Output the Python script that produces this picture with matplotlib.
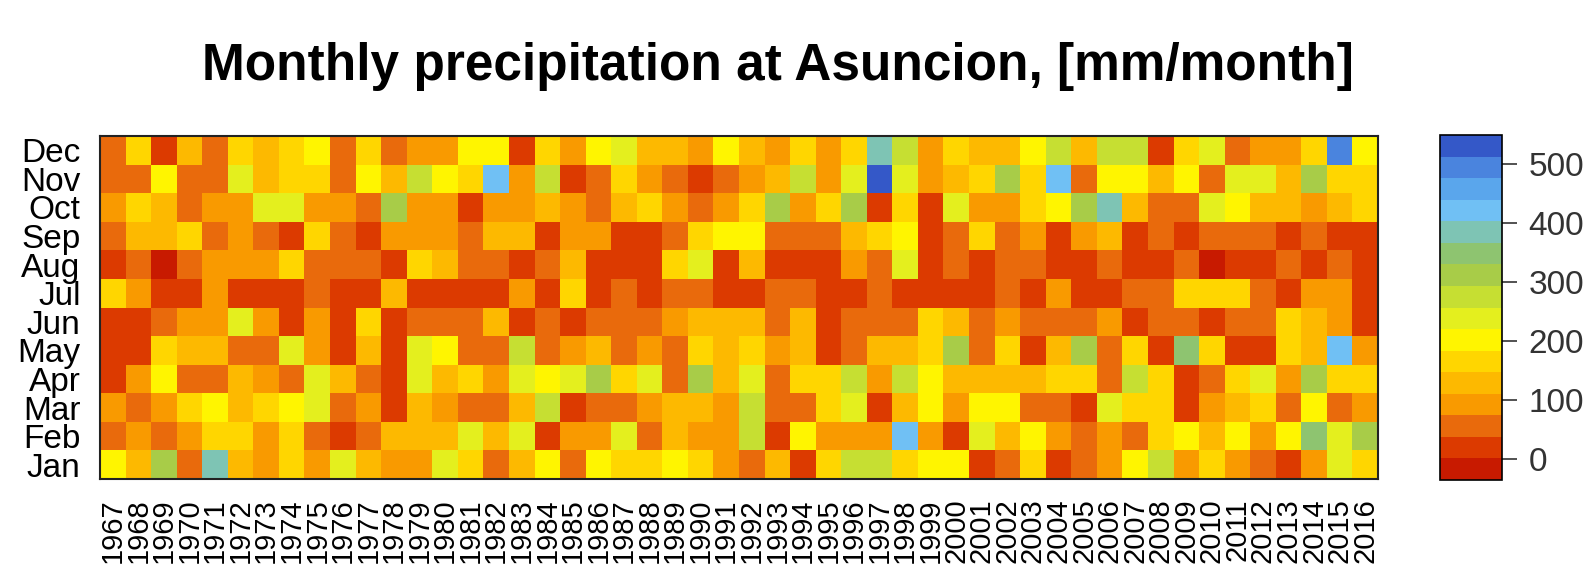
import numpy as np
import matplotlib
matplotlib.use("Agg")
import matplotlib.pyplot as plt
from matplotlib.colors import ListedColormap, BoundaryNorm

plt.rcParams['font.family'] = ['Liberation Sans', 'DejaVu Sans']

# ── data (mm/month) ──
years = list(range(1967, 2017))
months = ["Jan", "Feb", "Mar", "Apr", "May", "Jun",
          "Jul", "Aug", "Sep", "Oct", "Nov", "Dec"]

jan = [200, 130, 310, 55, 385, 130, 90, 165, 90, 240,
       130, 90, 90, 240, 165, 55, 130, 200, 55, 200,
       165, 165, 200, 165, 90, 55, 130, 20, 165, 275,
       275, 165, 200, 200, 20, 55, 165, 20, 55, 90,
       200, 275, 90, 165, 90, 55, 20, 90, 240, 165]
feb = [55, 90, 55, 90, 165, 165, 90, 165, 55, 20,
       55, 130, 130, 130, 240, 130, 240, 20, 90, 90,
       240, 55, 130, 90, 90, 275, 20, 200, 90, 90,
       90, 420, 90, 20, 240, 130, 200, 90, 55, 90,
       55, 165, 200, 130, 200, 90, 200, 345, 240, 310]
mar = [90, 55, 90, 165, 200, 130, 165, 200, 240, 55,
       90, 20, 130, 90, 55, 55, 130, 275, 20, 55,
       55, 90, 130, 130, 90, 275, 55, 55, 165, 240,
       20, 130, 200, 90, 200, 200, 55, 55, 20, 240,
       165, 165, 20, 90, 130, 165, 55, 200, 55, 90]
apr = [20, 90, 200, 55, 55, 130, 90, 55, 240, 130,
       55, 20, 240, 130, 165, 90, 240, 200, 240, 310,
       165, 240, 55, 310, 130, 240, 55, 165, 165, 275,
       90, 275, 200, 130, 130, 130, 130, 165, 165, 55,
       275, 165, 20, 55, 165, 240, 90, 310, 165, 165]
may = [20, 20, 165, 130, 130, 55, 55, 240, 90, 20,
       130, 20, 240, 200, 55, 55, 275, 55, 90, 130,
       55, 90, 55, 165, 130, 165, 90, 130, 20, 55,
       130, 130, 165, 310, 55, 165, 20, 130, 310, 55,
       165, 20, 345, 165, 20, 20, 165, 130, 420, 90]
jun = [20, 20, 55, 90, 90, 240, 90, 20, 90, 20,
       165, 20, 55, 55, 55, 130, 20, 55, 20, 55,
       55, 55, 90, 130, 130, 130, 55, 130, 20, 55,
       55, 55, 165, 130, 55, 90, 55, 55, 55, 90,
       20, 55, 55, 20, 55, 55, 165, 130, 90, 20]
jul = [165, 90, 20, 20, 90, 20, 20, 20, 55, 20,
       20, 130, 20, 20, 20, 20, 90, 20, 165, 20,
       55, 20, 55, 55, 20, 20, 55, 55, 20, 20,
       55, 20, 20, 20, 20, 55, 20, 90, 20, 20,
       55, 55, 165, 165, 165, 55, 20, 90, 90, 20]
aug = [20, 55, 0, 55, 90, 90, 90, 165, 55, 55,
       55, 20, 165, 130, 55, 55, 20, 55, 130, 20,
       20, 20, 165, 240, 20, 130, 20, 20, 20, 90,
       55, 240, 20, 55, 20, 55, 55, 20, 20, 55,
       20, 20, 55, 0, 20, 20, 55, 20, 55, 20]
sep = [55, 130, 130, 165, 55, 90, 55, 20, 165, 55,
       20, 90, 90, 90, 55, 130, 130, 20, 90, 90,
       20, 20, 55, 165, 200, 200, 55, 55, 55, 130,
       165, 200, 20, 55, 165, 55, 90, 20, 90, 130,
       20, 55, 20, 55, 55, 55, 20, 55, 20, 20]
oct = [90, 165, 130, 55, 90, 90, 240, 240, 90, 90,
       55, 310, 90, 90, 20, 90, 90, 130, 90, 55,
       130, 165, 90, 55, 90, 165, 310, 90, 165, 310,
       20, 165, 20, 240, 90, 90, 165, 200, 310, 385,
       130, 55, 55, 240, 200, 130, 130, 90, 130, 165]
nov = [55, 55, 200, 55, 55, 240, 130, 165, 165, 55,
       200, 130, 275, 200, 165, 420, 90, 275, 20, 55,
       165, 90, 55, 20, 55, 90, 130, 275, 90, 240,
       530, 240, 90, 130, 165, 310, 165, 420, 55, 200,
       200, 130, 200, 55, 240, 240, 130, 310, 165, 165]
dec = [55, 165, 20, 130, 55, 165, 130, 165, 200, 55,
       165, 55, 90, 90, 200, 200, 20, 165, 90, 200,
       240, 130, 130, 90, 200, 130, 90, 165, 90, 165,
       385, 275, 90, 165, 130, 130, 200, 275, 130, 275,
       275, 20, 165, 240, 55, 90, 90, 165, 495, 200]

# colour bands of the legend
band_colors = ["#c81a00", "#dc3a00", "#e96a0c", "#f99a00", "#fdb900", "#ffd600",
               "#fff500", "#e4ef1e", "#c6df32", "#a8cc48", "#8ec470", "#7ec4b4",
               "#70c0f4", "#5aa6ec", "#4a84de", "#3458c8"]
vmin, vmax = -35.5, 549.5


def main():
    data = np.array([jan, feb, mar, apr, may, jun, jul, aug, sep, oct, nov, dec], dtype=float)
    bounds = np.linspace(vmin, vmax, len(band_colors) + 1)
    cmap = ListedColormap(band_colors)
    norm = BoundaryNorm(bounds, cmap.N)

    fig = plt.figure(figsize=(15.94, 5.76), dpi=100)
    ax = fig.add_axes([100 / 1594, 1 - 479 / 576, 1278 / 1594, 343 / 576])
    xe = np.arange(len(years) + 1)
    ye = np.arange(len(months) + 1)
    mesh = ax.pcolormesh(xe, ye, data, cmap=cmap, norm=norm)

    ax.set_xlim(0, len(years))
    ax.set_ylim(0, len(months))
    ax.set_xticks(np.arange(len(years)) + 0.5)
    ax.set_xticklabels([str(y) for y in years], rotation=90, fontsize=21)
    ax.set_yticks(np.arange(len(months)) + 0.5)
    ax.set_yticklabels(months, fontsize=24)
    ax.tick_params(axis="x", length=0, pad=14)
    ax.tick_params(axis="y", length=0, pad=14)
    for sp in ax.spines.values():
        sp.set_linewidth(1.5)
        sp.set_color("#222222")

    fig.text(778 / 1594, 1 - 80 / 576, "Monthly precipitation at Asuncion, [mm/month]",
             ha="center", va="baseline", fontsize=37, fontweight="bold")

    # legend strip
    cax = fig.add_axes([1440 / 1594, 1 - 480 / 576, 62 / 1594, 345 / 576])
    cb = fig.colorbar(mesh, cax=cax, ticks=[0, 100, 200, 300, 400, 500])
    cb.ax.minorticks_off()
    cb.ax.tick_params(labelsize=24, length=11, width=1.2, pad=8, colors="#333333")
    cb.outline.set_linewidth(1.2)

    fig.savefig("out.png", dpi=100)


if __name__ == "__main__":
    main()
